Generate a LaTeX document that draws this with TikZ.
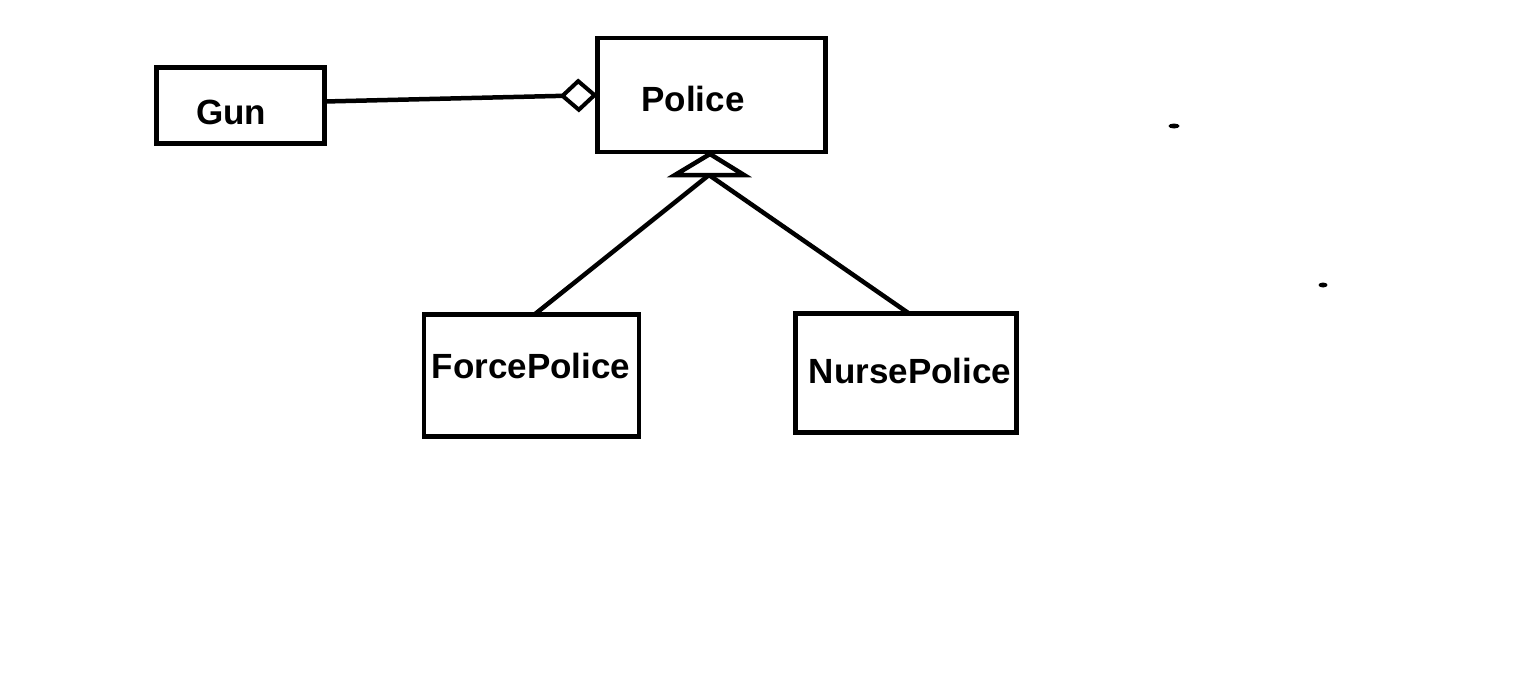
\documentclass[tikz,border=0pt]{standalone}
\usepackage{fontspec}
\setmainfont{Liberation Sans}
\usetikzlibrary{arrows.meta}
\begin{document}
\begin{tikzpicture}[x=1pt,y=-1pt,
  cls/.style={draw,line width=4.5pt,inner sep=0pt,outer sep=0pt},
  lbl/.style={font=\fontsize{35}{40}\selectfont\bfseries,inner sep=0pt},
  conn/.style={line width=4.5pt},
  blob/.style={fill=black,draw=none}]
\useasboundingbox (0,0) rectangle (1517,688);
\node[cls,minimum width=168pt,minimum height=76pt] (gun) at (240.5,105.5) {};
\node[cls,minimum width=228pt,minimum height=114pt] (police) at (711.5,95) {};
\node[cls,minimum width=215pt,minimum height=122pt] (fp) at (531.5,375.5) {};
\node[cls,minimum width=221pt,minimum height=119pt] (np) at (906,373) {};
\node[lbl] (tgun) at (231,112) {Gun};
\node[lbl] (tpolice) at (693,99) {Police};
\node[lbl] (tfp) at (531,366) {ForcePolice};
\node[lbl] (tnp) at (910,371) {NursePolice};
% aggregation
\draw[conn,-{Diamond[open,length=38pt,width=34pt,line width=4pt]}] ([yshift=4pt]gun.east) -- (police.west);
% generalization
\coordinate (apex) at (710,154);
\coordinate (bl) at (675,175);
\coordinate (br) at (744,175);
\coordinate (base) at (709,175);
\draw[conn,line join=miter] (apex) -- (br) -- (bl) -- cycle;
\draw[conn] (base) -- ([xshift=3pt]fp.north);
\draw[conn] (base) -- ([xshift=3pt]np.north);
% stray marks
\fill[blob] (1174,126) ellipse (5.5pt and 2.5pt);
\fill[blob] (1323,285) ellipse (4.5pt and 2.5pt);
\end{tikzpicture}
\end{document}
